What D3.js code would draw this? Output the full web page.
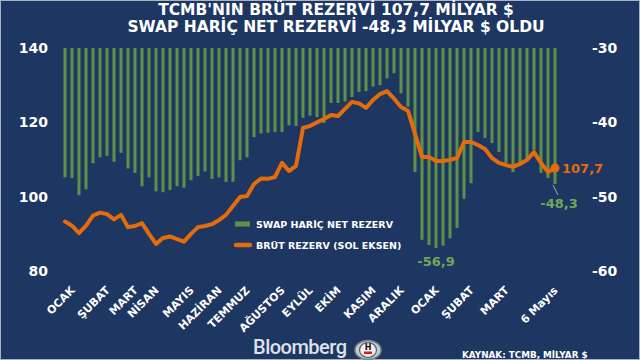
<!DOCTYPE html>
<html><head><meta charset="utf-8">
<script src="https://cdn.jsdelivr.net/npm/d3@7"></script>
<style>html,body{margin:0;padding:0;background:#1e3662;} svg{display:block;}</style>
</head><body><svg id="c" width="640" height="360"></svg>
<script>
// Weekly data, Jan 2021 – 6 May 2022 (billion $)
const netReserve = [
  -47.4,-47.5,-49.8,-49.0,-45.5,-44.7,-44.5,-45.3,-44.1,-46.2,
  -46.8,-48.6,-47.4,-49.3,-49.4,-49.1,-48.6,-48.8,-47.8,-47.2,
  -46.6,-47.6,-47.4,-48.0,-48.0,-45.1,-44.7,-42.0,-41.5,-41.4,
  -41.3,-41.3,-40.4,-40.5,-39.4,-39.1,-39.3,-40.1,-37.4,-37.4,
  -37.2,-36.6,-35.9,-35.8,-35.2,-35.0,-34.1,-33.4,-36.1,-37.9,
  -46.7,-55.8,-56.5,-56.9,-56.6,-55.6,-54.2,-50.3,-48.2,-41.3,
  -42.1,-42.8,-44.0,-45.5,-46.7,-45.7,-45.3,-43.7,-46.8,-47.5,
  -48.3
];
const grossReserve = [
  93.3,92.2,90.2,92.2,94.9,95.7,95.3,93.9,95.1,91.8,
  92.1,92.9,90.0,87.3,88.9,89.3,88.6,87.9,90.0,91.8,
  92.1,92.6,93.7,95.1,97.5,99.9,100.2,103.4,104.9,104.8,
  105.3,109.1,106.9,108.3,118.5,119.0,120.0,120.9,122.0,121.7,
  123.6,125.5,125.1,123.9,126.0,127.6,128.4,126.4,124.1,123.1,
  116.9,110.7,110.7,109.6,109.6,109.9,110.4,114.7,114.7,113.9,
  112.8,110.4,109.1,108.5,108.0,108.8,109.9,112.0,109.1,106.6,
  107.7
];
const tickLabels = ["OCAK","ŞUBAT","MART","NİSAN","MAYIS","HAZİRAN","TEMMUZ","AĞUSTOS",
  "EYLÜL","EKİM","KASIM","ARALIK","OCAK","ŞUBAT","MART","6 Mayıs"];
const tickWeeks = [1,6,10,13,18,22,26,31,35,39,44,48,53,58,63,70];
const leftTicks = [80,100,120,140];
const rightTicks = [-60,-50,-40,-30];
const titleLines = ["TCMB'NIN BRÜT REZERVİ 107,7 MİLYAR $","SWAP HARİÇ NET REZERVİ -48,3 MİLYAR $ OLDU"];
const legendLabels = ["SWAP HARİÇ NET REZERV","BRÜT REZERV (SOL EKSEN)"];

const W = 640, H = 360;
const BG = "#1e3662", GREEN = "#5e9146", GREEN_TXT = "#72a856", ORANGE = "#e46c0a";
const FONT = "DejaVu Sans, Verdana, sans-serif";
const fmt = v => d3.format(".1f")(v).replace("−", "-").replace(".", ",");

const svg = d3.select("#c");
svg.append("rect").attr("width", W).attr("height", H).attr("fill", BG);
svg.append("rect").attr("x",0.5).attr("y",0.5).attr("width",W-1).attr("height",H-1)
  .attr("fill","none").attr("stroke","#aab3c4").attr("stroke-width",1);

const x = d3.scaleLinear().domain([0, netReserve.length - 1]).range([65, 555]);
const yL = d3.scaleLinear().domain([80, 140]).range([271, 48]);
const yR = d3.scaleLinear().domain([-60, -30]).range([271, 48]);

// Title
svg.selectAll("text.title").data(titleLines).join("text")
  .attr("class","title")
  .attr("x", 336).attr("y", (d,i) => 15 + i*17)
  .attr("text-anchor","middle").attr("fill","#ffffff")
  .style("font-family", FONT).style("font-weight","bold").style("font-size","15.5px")
  .text(d => d);

// Bars hanging from -30
svg.append("g").selectAll("rect").data(netReserve).join("rect")
  .attr("x", (d,i) => x(i) - 1.5).attr("width", 3)
  .attr("y", yR(-30)).attr("height", d => yR(d) - yR(-30))
  .attr("fill", GREEN);

// Line
const line = d3.line().x((d,i) => x(i)).y(d => yL(d));
svg.append("path").datum(grossReserve)
  .attr("d", line).attr("fill","none").attr("stroke", ORANGE)
  .attr("stroke-width", 4).attr("stroke-linejoin","round").attr("stroke-linecap","round");
const last = grossReserve.length - 1;
svg.append("circle").attr("cx", x(last)).attr("cy", yL(grossReserve[last])).attr("r", 4.5).attr("fill", ORANGE);

// Axes
function styleAxis(g){
  g.select(".domain").remove();
  g.selectAll("line").remove();
  g.selectAll("text").attr("fill","#ffffff")
    .style("font-family", FONT).style("font-weight","bold").style("font-size","14px");
}
svg.append("g").attr("transform","translate(50,0)")
  .call(d3.axisLeft(yL).tickValues(leftTicks).tickSize(0).tickPadding(2).tickFormat(d => String(d)))
  .call(styleAxis);
svg.append("g").attr("transform","translate(590,0)")
  .call(d3.axisRight(yR).tickValues(rightTicks).tickSize(0).tickPadding(2).tickFormat(d => String(d)))
  .call(styleAxis);

const xa = svg.append("g").attr("transform","translate(3,291)")
  .call(d3.axisBottom(x).tickValues(tickWeeks).tickSize(0).tickPadding(0)
    .tickFormat((d,i) => tickLabels[i]));
xa.select(".domain").remove();
xa.selectAll("line").remove();
xa.selectAll("text").attr("y",0).attr("dy",null).attr("x",0)
  .attr("transform","rotate(-45)").attr("text-anchor","end")
  .attr("fill","#ffffff")
  .style("font-family", FONT).style("font-weight","bold").style("font-size","11px");

// Value labels
const lastNet = netReserve[last];
const minIdx = d3.minIndex(netReserve);
svg.append("text").attr("x", x(last) + 7).attr("y", yL(grossReserve[last]) + 5)
  .attr("fill", ORANGE).style("font-family", FONT).style("font-weight","bold").style("font-size","13px")
  .text(fmt(grossReserve[last]));
svg.append("line").attr("x1", x(last) - 2).attr("y1", yR(lastNet) + 1)
  .attr("x2", x(last) + 3).attr("y2", yR(lastNet) + 11)
  .attr("stroke","#b9c2d0").attr("stroke-width",0.8);
svg.append("text").attr("x", x(last) + 4).attr("y", yR(lastNet) + 24)
  .attr("text-anchor","middle")
  .attr("fill", GREEN_TXT).style("font-family", FONT).style("font-weight","bold").style("font-size","13px")
  .text(fmt(lastNet));
svg.append("text").attr("x", x(minIdx)).attr("y", yR(netReserve[minIdx]) + 18)
  .attr("text-anchor","middle")
  .attr("fill", GREEN_TXT).style("font-family", FONT).style("font-weight","bold").style("font-size","13px")
  .text(fmt(netReserve[minIdx]));

// Legend
const lg = svg.append("g").attr("transform","translate(235,224)");
lg.append("rect").attr("x",0).attr("y",-2.5).attr("width",15).attr("height",5).attr("fill",GREEN);
lg.append("line").attr("x1",1).attr("x2",15).attr("y1",21).attr("y2",21)
  .attr("stroke",ORANGE).attr("stroke-width",4.5).attr("stroke-linecap","round");
lg.selectAll("text").data(legendLabels).join("text")
  .attr("x", 21).attr("y", (d,i) => 3.5 + i*21)
  .attr("fill","#ffffff").style("font-family", FONT).style("font-weight","bold").style("font-size","9.5px")
  .text(d => d);

// Footer
svg.append("text").attr("x",253).attr("y",354).attr("fill","#dde2ea")
  .style("font-family","Roboto, Liberation Sans, sans-serif").style("font-weight","500").style("font-size","20px")
  .style("letter-spacing","-0.5px").text("Bloomberg");
const logo = svg.append("g").attr("transform","translate(368,350)");
logo.append("ellipse").attr("rx",13).attr("ry",9.5).attr("fill","#c8ccd3").attr("stroke","#7d838e").attr("stroke-width",1.5);
logo.append("ellipse").attr("rx",8.5).attr("ry",7.5).attr("fill","#eef0f3").attr("stroke","#555b66").attr("stroke-width",1.2);
logo.append("text").attr("x",0).attr("y",0).attr("text-anchor","middle").attr("fill","#111")
  .style("font-family",FONT).style("font-weight","bold").style("font-size","8px").text("H");
logo.append("rect").attr("x",-4).attr("y",1.5).attr("width",8).attr("height",2.5).attr("fill","#d32027");
svg.append("text").attr("x",462).attr("y",358).attr("fill","#ffffff")
  .style("font-family", FONT).style("font-weight","bold").style("font-size","8.8px")
  .text("KAYNAK: TCMB, MİLYAR $");
</script>
</body></html>
